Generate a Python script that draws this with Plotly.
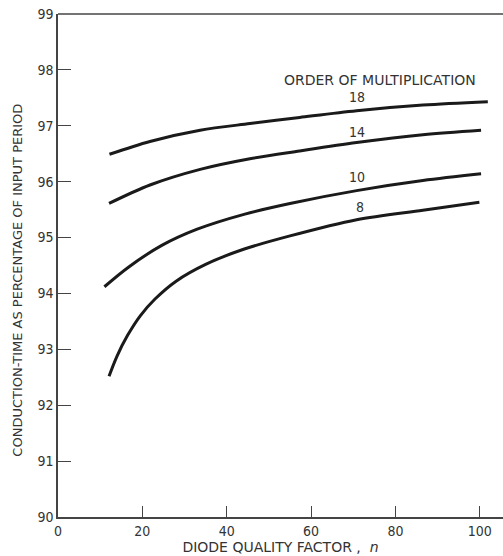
import plotly.graph_objects as go

x18 = [12.2, 21.8, 33.7, 45.5, 57.3, 70.8, 86.5, 101.9]
y18 = [96.49, 96.72, 96.92, 97.04, 97.15, 97.27, 97.37, 97.43]

x14 = [12.1, 21.8, 33.7, 45.5, 57.3, 70.8, 86.5, 100.3]
y14 = [95.61, 95.94, 96.22, 96.41, 96.55, 96.70, 96.84, 96.92]

x10 = [11.0, 16.7, 24.6, 33.0, 44.3, 55.0, 70.8, 86.5, 100.3]
y10 = [94.12, 94.47, 94.86, 95.15, 95.42, 95.61, 95.84, 96.02, 96.14]

x8 = [12.1, 14.0, 16.5, 19.5, 23.0, 28.0, 35.0, 44.0, 55.0, 70.8, 86.5, 99.9]
y8 = [92.52, 92.88, 93.25, 93.60, 93.90, 94.22, 94.52, 94.79, 95.03, 95.32, 95.49, 95.63]

orders = ["18", "14", "10", "8"]
label_x = [70.8, 70.8, 70.8, 71.7]
label_y = [97.51, 96.89, 96.08, 95.55]

xticks = [0, 20, 40, 60, 80, 100]
yticks = [90, 91, 92, 93, 94, 95, 96, 97, 98, 99]

FONT = "DejaVu Sans, Arial"
TICKFONT = "DejaVu Sans Condensed, DejaVu Sans, Arial"
INK = "#1a1a1a"
TXT = "#333333"

fig = go.Figure()
for xs, ys in [(x18, y18), (x14, y14), (x10, y10), (x8, y8)]:
    fig.add_trace(go.Scatter(x=xs, y=ys, mode="lines",
                             line=dict(color=INK, width=3, shape="spline", smoothing=0.9),
                             showlegend=False, hoverinfo="skip"))

for t, lx, ly in zip(orders, label_x, label_y):
    fig.add_annotation(x=lx, y=ly, text=t, showarrow=False,
                       font=dict(family=TICKFONT, size=14, color=TXT))
fig.add_annotation(x=76.3, y=97.82, text="ORDER OF MULTIPLICATION", showarrow=False,
                   font=dict(family=FONT, size=14, color=TXT))
fig.add_annotation(xref="paper", x=-0.093, y=94.24, yref="y", textangle=-90,
                   text="CONDUCTION-TIME AS PERCENTAGE OF INPUT PERIOD", showarrow=False,
                   xanchor="center", yanchor="middle",
                   font=dict(family=FONT, size=13, color=TXT))

fig.update_layout(
    width=503, height=556,
    margin=dict(l=58, r=0, t=14, b=39),
    plot_bgcolor="white", paper_bgcolor="white",
    xaxis=dict(range=[0, 105.5], tickvals=xticks, ticks="inside", ticklen=11,
               tickcolor="#444", tickwidth=1.2, showgrid=False, zeroline=False,
               showline=True, linecolor="#444", linewidth=1.5,
               tickfont=dict(family=TICKFONT, size=14, color=TXT),
               title=dict(text="DIODE QUALITY FACTOR ,  <i>n</i>", standoff=2,
                          font=dict(family=FONT, size=14, color=TXT))),
    yaxis=dict(range=[90, 99], tickvals=yticks, ticks="inside", ticklen=13,
               tickcolor="#444", tickwidth=1.2, showgrid=False, zeroline=False,
               showline=True, linecolor="#444", linewidth=1.5,
               tickfont=dict(family=TICKFONT, size=14, color=TXT)),
)
fig.add_shape(type="line", xref="paper", yref="paper", x0=0, x1=1, y0=1, y1=1,
              line=dict(color="#444", width=1.5))

fig.write_html("out.html")
